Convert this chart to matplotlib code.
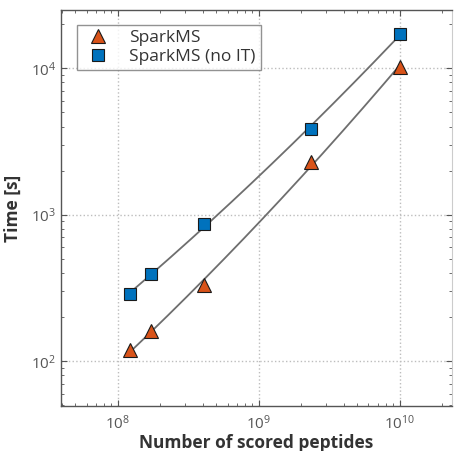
import numpy as np
import matplotlib
matplotlib.use("Agg")
import matplotlib.pyplot as plt
from matplotlib.ticker import LogLocator, NullFormatter

# Data
peptides = [1.22e8, 1.71e8, 4.07e8, 2.34e9, 1.0e10]
time_sparkms = [119, 160, 330, 2300, 10200]
time_noit = [286, 393, 860, 3860, 17100]

series_labels = ["SparkMS", "SparkMS (no IT)"]

plt.rcParams['font.family'] = ['Open Sans', 'DejaVu Sans']

fig = plt.figure(figsize=(4.54, 4.51), dpi=100)
ax = fig.add_axes([61/454, 45/451, 391/454, 396/451])

xs = np.array(peptides)
xx = np.logspace(np.log10(xs.min()), np.log10(xs.max()), 200)
for ys in (time_sparkms, time_noit):
    c = np.polyfit(np.log10(xs), np.log10(ys), 2)
    ax.plot(xx, 10**np.polyval(c, np.log10(xx)), color='#6e6e6e', lw=1.3, zorder=2)

ax.plot(peptides, time_sparkms, linestyle='none', marker='^', ms=10,
        mfc='#D95319', mec='#1a1a1a', mew=0.8, label=series_labels[0], zorder=3)
ax.plot(peptides, time_noit, linestyle='none', marker='s', ms=8.5,
        mfc='#0072BD', mec='#1a1a1a', mew=0.8, label=series_labels[1], zorder=3)

ax.set_xscale('log')
ax.set_yscale('log')
ax.set_xlim(3.95e7, 2.35e10)
ax.set_ylim(49.5, 2.5e4)

ax.xaxis.set_major_locator(LogLocator(base=10, numticks=10))
ax.yaxis.set_major_locator(LogLocator(base=10, numticks=10))
ax.xaxis.set_minor_locator(LogLocator(base=10, subs=np.arange(2, 10), numticks=10))
ax.yaxis.set_minor_locator(LogLocator(base=10, subs=np.arange(2, 10), numticks=10))
ax.xaxis.set_minor_formatter(NullFormatter())
ax.yaxis.set_minor_formatter(NullFormatter())

ax.grid(True, which='major', linestyle=':', color='#bdbdbd', lw=1.0)
ax.tick_params(which='both', direction='in', top=True, right=True, colors='#555555',
               labelcolor='#555555', labelsize=11)
ax.tick_params(which='major', length=4, width=0.8)
ax.tick_params(which='minor', length=2.5, width=0.6)
ax.tick_params(axis='x', pad=6)

for side in ['left', 'bottom', 'top']:
    ax.spines[side].set_color('#555555')
    ax.spines[side].set_linewidth(1.0)
ax.spines['right'].set_color('#cccccc')
ax.spines['right'].set_linewidth(0.8)

ax.set_xlabel('Number of scored peptides', fontsize=12.5, fontweight='bold',
              color='#333333', labelpad=1)
ax.set_ylabel('Time [s]', fontsize=12.5, fontweight='bold', color='#333333', labelpad=6)

leg = ax.legend(loc='upper left', bbox_to_anchor=(0.041, 0.962), borderaxespad=0,
                fontsize=12.5, frameon=True, fancybox=False, edgecolor='#777777',
                handletextpad=0.9, borderpad=0.3, labelspacing=0.15,
                handlelength=1.8)
leg.get_frame().set_linewidth(1.0)
for t in leg.get_texts():
    t.set_color('#333333')

fig.savefig('out.png', dpi=100)
